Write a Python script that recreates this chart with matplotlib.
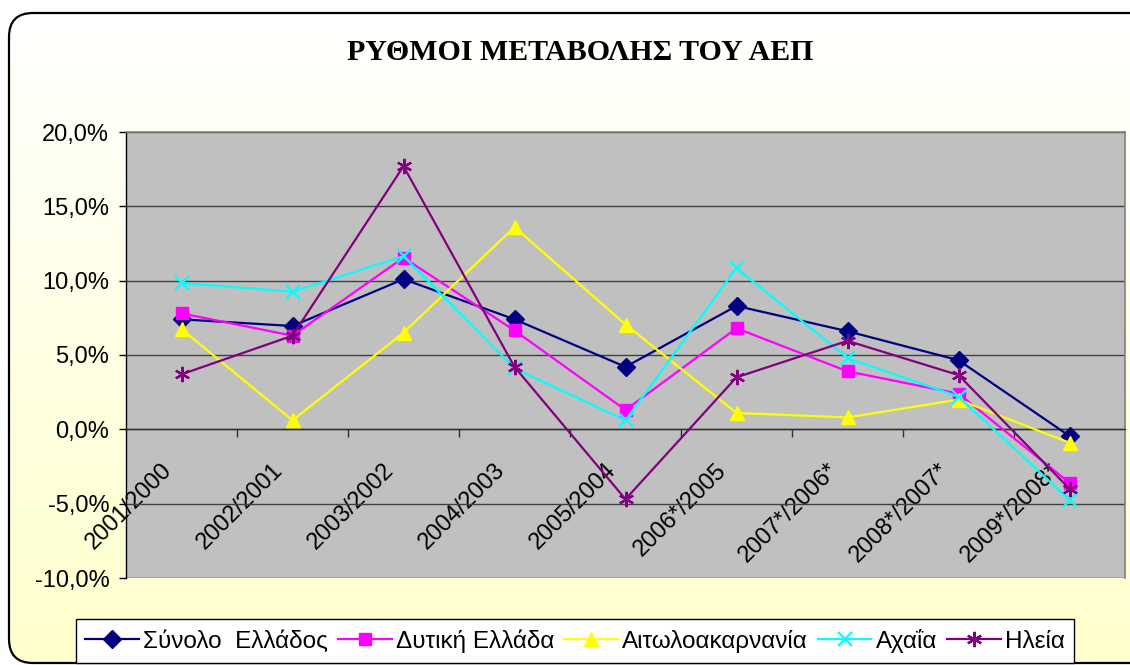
import matplotlib.pyplot as plt
import numpy as np
from matplotlib.patches import FancyBboxPatch
from matplotlib.transforms import ScaledTranslation

periods = [
    "2001/2000", "2002/2001", "2003/2002", "2004/2003", "2005/2004",
    "2006*/2005", "2007*/2006*", "2008*/2007*", "2009*/2008*",
]
greece = [7.4, 6.95, 10.1, 7.4, 4.2, 8.3, 6.6, 4.65, -0.45]
west_greece = [7.8, 6.3, 11.55, 6.65, 1.3, 6.8, 3.9, 2.4, -3.6]
aitoloakarnania = [6.75, 0.6, 6.5, 13.6, 7.05, 1.1, 0.8, 2.0, -0.9]
achaia = [9.85, 9.25, 11.65, 4.1, 0.6, 10.85, 4.8, 2.2, -4.75]
ilia = [3.7, 6.3, 17.7, 4.2, -4.7, 3.5, 5.95, 3.65, -4.0]

y_ticks = [-10, -5, 0, 5, 10, 15, 20]
y_labels = ["-10,0%", "-5,0%", "0,0%", "5,0%", "10,0%", "15,0%", "20,0%"]

series = [
    ("Σύνολο  Ελλάδος", greece, "#000080", "D", 9),
    ("Δυτική Ελλάδα", west_greece, "#FF00FF", "s", 9),
    ("Αιτωλοακαρνανία", aitoloakarnania, "#FFFF00", "^", 10),
    ("Αχαΐα", achaia, "#00FFFF", "x", 10),
    ("Ηλεία", ilia, "#800080", (6, 2, 0), 11),
]

W, H = 1130, 665
fig = plt.figure(figsize=(W / 100, H / 100), dpi=100)
fig.patch.set_facecolor("white")

# background: rounded box with white -> pale yellow gradient
bg = fig.add_axes([0, 0, 1, 1])
bg.set_xlim(0, W)
bg.set_ylim(H, 0)
bg.axis("off")
grad = np.linspace(0, 1, 256)[:, None]
cmap = plt.matplotlib.colors.LinearSegmentedColormap.from_list(
    "bgfade", ["#FFFFFF", "#FFFFCC"])
img = bg.imshow(grad, cmap=cmap, extent=[0, W, 663, 13], aspect="auto", zorder=0)
box = FancyBboxPatch((9, 13), 1150, 650, boxstyle="round,pad=0,rounding_size=24",
                     facecolor="none", edgecolor="black", linewidth=1.6, zorder=2)
bg.add_patch(box)
img.set_clip_path(box)

fig.text(580 / W, 1 - 53 / H, "ΡΥΘΜΟΙ ΜΕΤΑΒΟΛΗΣ ΤΟΥ ΑΕΠ", family="Liberation Serif",
         fontsize=21.5, fontweight="bold", ha="center", va="center")

left, right, top, bottom = 126, 1125, 132, 578
ax = fig.add_axes([left / W, 1 - bottom / H, (right - left) / W, (bottom - top) / H])
ax.set_facecolor("#C0C0C0")

x = np.arange(len(periods))
for name, vals, color, marker, ms in series:
    ax.plot(x, vals, color=color, lw=1.6, marker=marker, markersize=ms,
            markeredgewidth=1.6 if marker in ("x", (6, 2, 0)) else 1,
            markeredgecolor=color, markerfacecolor=color, label=name, zorder=3)

ax.set_xlim(-0.5, len(periods) - 0.5)
ax.set_ylim(-10, 20)
ax.set_yticks(y_ticks, y_labels)
ax.grid(axis="y", color="#404040", lw=1.0, zorder=1)
ax.set_axisbelow(True)

for s in ("top", "right"):
    ax.spines[s].set_color("#808080")
    ax.spines[s].set_linewidth(1.2)
ax.spines["left"].set_color("black")
ax.spines["left"].set_linewidth(1.0)
ax.spines["bottom"].set_position(("data", 0))
ax.spines["bottom"].set_color("#303030")
ax.spines["bottom"].set_linewidth(1.0)

ax.tick_params(axis="y", direction="out", length=5, width=1, pad=7,
               labelsize=17, labelfontfamily="Liberation Sans")
ax.set_xticks(x, periods)
ax.set_xticks(np.arange(0.5, len(periods) - 0.5, 1), minor=True)
ax.tick_params(axis="x", which="major", length=0, pad=0,
               labelsize=17, labelfontfamily="Liberation Sans")
ax.tick_params(axis="x", which="minor", direction="out", length=6, width=1,
               color="#303030")
shift = ScaledTranslation(-0.21, -0.30, fig.dpi_scale_trans)
for lab in ax.get_xticklabels():
    lab.set_rotation(45)
    lab.set_ha("right")
    lab.set_va("top")
    lab.set_rotation_mode("anchor")
    lab.set_transform(lab.get_transform() + shift)

leg = fig.legend(loc="center", bbox_to_anchor=(575 / W, 1 - 641 / H), ncol=5,
                 prop={"family": "Liberation Sans", "size": 17.5},
                 handlelength=2.2, handletextpad=0.17, columnspacing=0.42,
                 borderpad=0.4, frameon=True, fancybox=False)
leg.get_frame().set_edgecolor("black")
leg.get_frame().set_linewidth(1.0)
leg.get_frame().set_facecolor("white")
leg.get_frame().set_alpha(1)

fig.savefig("out.png", dpi=100)
